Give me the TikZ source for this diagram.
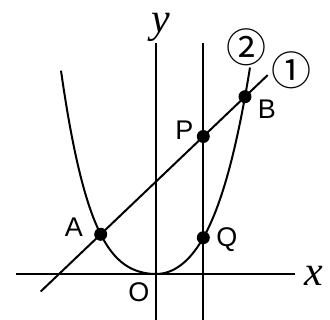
\documentclass[tikz,border=0pt]{standalone}
\usepackage{fontspec}
\setmainfont{Liberation Sans}
\newfontfamily\serifit{Liberation Serif}
\newfontfamily\circfont{Noto Sans CJK JP}

\begin{document}
\begin{tikzpicture}[x=1pt, y=1pt, line width=2pt,
    dot/.style={circle, fill, inner sep=0pt, minimum size=13pt},
    lbl/.style={inner sep=0pt, font=\fontsize{27}{30}\selectfont},
    axlbl/.style={inner sep=0pt, font=\fontsize{42}{46}\selectfont\serifit\itshape},
    num/.style={inner sep=0pt, font=\fontsize{40}{44}\selectfont\circfont}
]
\useasboundingbox (-156,-46) rectangle (174,274);
\coordinate (O) at (0,0);
\coordinate (Xl) at (-140,0);
\coordinate (Xr) at (139,0);
\coordinate (Yb) at (0,-46);
\coordinate (Yt) at (0,231);
\coordinate (Vb) at (47.3,-46);
\coordinate (Vt) at (47.3,231);
\coordinate (L1) at (-115.3,-17.5);
\coordinate (L2) at (111.7,198.9);
\draw (Xl) -- (Xr);
\draw (Yb) -- (Yt);
\draw (Vb) -- (Vt);
\draw (L1) -- (L2);
\draw plot[domain=-95:0, samples=70] (\x, {0.00809*\x*\x + 0.016*(\x*\x/100)*(\x*\x/100)})
    -- plot[domain=0:94, samples=70] (\x, {0.0138*\x*\x + 0.010836*(\x*\x/100)*(\x*\x/100)});
\node[dot] (A) at (-55.3,39.7) {};
\node[dot] (B) at (89,177.3) {};
\node[dot] (P) at (47.3,137.5) {};
\node[dot] (Q) at (47.3,36.3) {};
\node[lbl] (Alab) at (-82,46.5) {A};
\node[lbl] (Blab) at (111,165) {B};
\node[lbl] (Plab) at (28.5,143.5) {P};
\node[lbl] (Qlab) at (71,34) {Q};
\node[lbl] (Olab) at (-17,-18) {O};
\node[axlbl] (xlab) at (157.5,-2) {x};
\node[axlbl] (ylab) at (5,247) {y};
\node[num] (one) at (136,204) {①};
\node[num] (two) at (91,227) {②};
\end{tikzpicture}
\end{document}
